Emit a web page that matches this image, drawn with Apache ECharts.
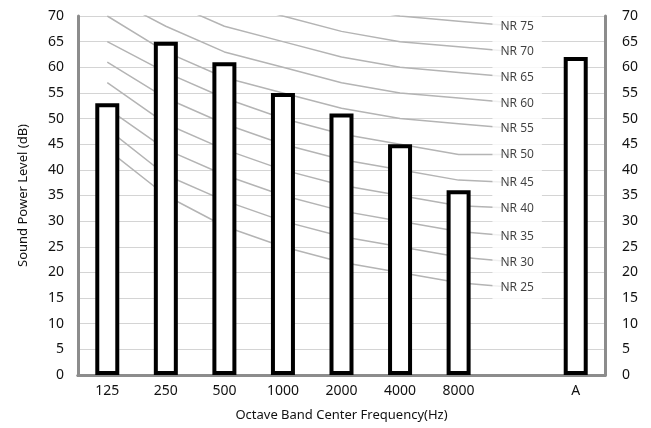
<!DOCTYPE html>
<html>
<head>
<meta charset="utf-8">
<script src="https://cdn.jsdelivr.net/npm/echarts@6/dist/echarts.min.js"></script>
<style>html,body{margin:0;padding:0;background:#fff;}#c{width:651px;height:428px;}</style>
</head>
<body>
<div id="c"></div>
<script>
var categories = ['125', '250', '500', '1000', '2000', '4000', '8000', '', 'A'];
var soundPower = [53, 65, 61, 55, 51, 45, 36, null, 62];
var yTicks = [0, 5, 10, 15, 20, 25, 30, 35, 40, 45, 50, 55, 60, 65, 70];

// NR curve values at 125..8000 Hz
var nrNames = ['NR 25', 'NR 30', 'NR 35', 'NR 40', 'NR 45', 'NR 50', 'NR 55', 'NR 60', 'NR 65', 'NR 70', 'NR 75'];
var nr25 = [44, 35, 29, 25, 22, 20, 18];
var nr30 = [48, 39, 34, 30, 27, 25, 23];
var nr35 = [52, 44, 39, 35, 32, 30, 28];
var nr40 = [57, 49, 44, 40, 37, 35, 33];
var nr45 = [61, 54, 49, 45, 42, 40, 38];
var nr50 = [65, 59, 54, 50, 47, 45, 43];
var nr55 = [70, 63, 58, 55, 52, 50, 49];
var nr60 = [74, 68, 63, 60, 57, 55, 54];
var nr65 = [78, 73, 68, 65, 62, 60, 59];
var nr70 = [83, 77, 73, 70, 67, 65, 64];
var nr75 = [87, 82, 78, 75, 72, 70, 69];
// value where each curve ends at its label (blank category)
var nrLabelValues = [17, 22, 27, 32.5, 37.5, 43, 48, 53, 58, 63, 68];

var nrCurves = [nr25, nr30, nr35, nr40, nr45, nr50, nr55, nr60, nr65, nr70, nr75];

var FONT = 'Noto Sans';
var labelCategory = categories[7];

var nrSeries = nrCurves.map(function (vals, i) {
  var data = vals.slice();
  data.push(nrLabelValues[i]);
  data.push(null);
  return {
    type: 'line',
    name: nrNames[i],
    data: data,
    z: 2,
    clip: true,
    symbol: 'none',
    lineStyle: { color: '#b4b4b4', width: 1.5 },
    emphasis: { disabled: true },
    silent: true,
    animation: false
  };
});

var labelSeries = {
  type: 'scatter',
  name: 'NR labels',
  z: 4,
  clip: false,
  silent: true,
  symbolSize: 1,
  itemStyle: { color: 'rgba(0,0,0,0)' },
  data: nrLabelValues.map(function (v, i) { return { value: [labelCategory, v], name: nrNames[i] }; }),
  label: {
    show: true,
    position: 'inside',
    formatter: function (p) { return p.name; },
    color: '#111',
    fontFamily: FONT,
    fontSize: 12,
    backgroundColor: '#fff',
    padding: [8, 8, 8, 8]
  }
};

var chart = echarts.init(document.getElementById('c'), null, { renderer: 'canvas' });
chart.setOption({
  animation: false,
  backgroundColor: '#fff',
  grid: { left: 78, right: 46, top: 16, bottom: 53, containLabel: false },
  xAxis: [{
    type: 'category',
    data: categories,
    position: 'bottom',
    z: 1,
    axisLine: { show: true, lineStyle: { color: '#8c8c8c', width: 3 } },
    axisTick: { show: false },
    axisLabel: { color: '#111', fontFamily: FONT, fontSize: 14, margin: 9 },
    name: 'Octave Band Center Frequency(Hz)',
    nameLocation: 'middle',
    nameGap: 34,
    nameTextStyle: { color: '#111', fontFamily: FONT, fontSize: 13 }
  }, {
    type: 'category',
    data: categories,
    position: 'top',
    z: 1,
    axisLine: { show: true, lineStyle: { color: '#8c8c8c', width: 3 } },
    axisTick: { show: false },
    axisLabel: { show: false }
  }],
  yAxis: [{
    type: 'value',
    min: 0, max: 70, interval: 5,
    position: 'left',
    z: 0,
    axisLine: { show: true, lineStyle: { color: '#8c8c8c', width: 3 } },
    axisTick: { show: false },
    axisLabel: { color: '#111', fontFamily: FONT, fontSize: 14, margin: 14,
      formatter: function (v) { return yTicks.indexOf(v) >= 0 ? String(v) : ''; } },
    splitLine: { show: true, lineStyle: { color: '#d4d4d4', width: 1.2 } },
    name: 'Sound Power Level (dB)',
    nameLocation: 'middle',
    nameGap: 48,
    nameTextStyle: { color: '#111', fontFamily: FONT, fontSize: 13 }
  }, {
    type: 'value',
    min: 0, max: 70, interval: 5,
    position: 'right',
    z: 1,
    axisLine: { show: true, lineStyle: { color: '#8c8c8c', width: 3 } },
    axisTick: { show: false },
    axisLabel: { color: '#111', fontFamily: FONT, fontSize: 14, margin: 17,
      formatter: function (v) { return yTicks.indexOf(v) >= 0 ? String(v) : ''; } },
    splitLine: { show: false }
  }],
  series: nrSeries.concat([labelSeries, {
    type: 'bar',
    name: 'Sound Power',
    data: soundPower,
    barWidth: 24,
    z: 3,
    itemStyle: { color: '#ffffff', borderColor: '#000000', borderWidth: 4 },
    silent: true
  }])
});
</script>
</body>
</html>
